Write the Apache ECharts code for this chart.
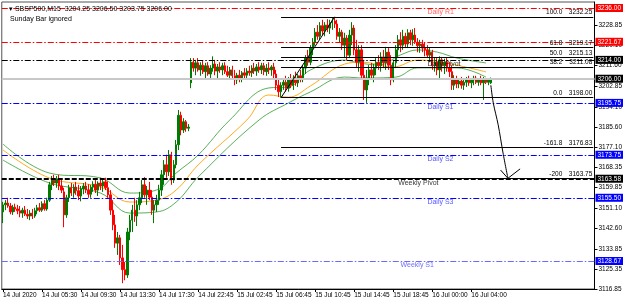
<!DOCTYPE html>
<html><head><meta charset="utf-8">
<script src="https://cdn.jsdelivr.net/npm/echarts@6/dist/echarts.min.js"></script>
<style>html,body{margin:0;padding:0;background:#fff}#c{width:625px;height:305px}</style>
</head><body><div id="c"></div>
<script>
// ---------- data ----------
const symbolName = 'SBSP500,M15';
const subTitle = 'Sunday Bar ignored';
const tickLabels = ['14 Jul 2020','14 Jul 05:30','14 Jul 09:30','14 Jul 13:30','14 Jul 17:30','14 Jul 22:45','15 Jul 02:45','15 Jul 06:45','15 Jul 10:45','15 Jul 14:45','15 Jul 18:45','16 Jul 00:00','16 Jul 04:00'];
const yTicks = [3116.85,3125.35,3133.85,3142.60,3151.10,3159.85,3168.35,3177.10,3185.60,3194.10,3202.85,3211.60,3220.10,3228.85];
// candles: [open, high, low, close]
const candles = [
[3149.5,3153.75,3144.75,3152.5],[3152.5,3154.5,3150.25,3153.25],[3153.25,3155.5,3151.25,3152.0],[3152.0,3153.25,3148.5,3149.5],
[3149.5,3152.5,3148.25,3151.5],[3151.5,3153.0,3149.5,3150.75],[3150.75,3152.5,3148.5,3150.0],[3150.0,3152.0,3147.25,3149.0],
[3149.0,3151.25,3147.0,3150.25],[3150.25,3152.0,3147.75,3148.5],[3148.5,3150.75,3146.5,3147.75],[3147.75,3150.25,3146.0,3149.0],
[3149.0,3150.75,3146.5,3147.75],[3147.75,3151.25,3147.0,3150.0],[3150.0,3152.5,3148.5,3151.25],[3151.25,3153.25,3149.5,3150.25],
[3150.25,3154.0,3149.5,3153.0],[3153.0,3154.5,3150.0,3150.75],[3150.75,3155.5,3150.0,3154.5],[3154.5,3162.25,3153.75,3161.0],
[3161.0,3164.75,3158.75,3163.0],[3163.0,3165.25,3160.5,3161.75],[3161.75,3164.75,3159.75,3163.5],[3163.5,3165.25,3158.75,3160.5],
[3160.5,3163.0,3157.5,3158.75],[3158.0,3159.75,3143.0,3148.25],[3148.25,3156.75,3147.0,3155.5],[3155.5,3161.0,3153.75,3159.75],
[3159.75,3161.75,3156.25,3157.5],[3157.5,3161.25,3155.5,3160.0],[3160.0,3162.25,3156.75,3158.5],[3158.5,3161.0,3154.5,3156.25],
[3156.25,3160.5,3154.0,3159.25],[3159.25,3161.75,3157.0,3160.5],[3160.5,3162.25,3157.5,3158.75],[3158.75,3161.25,3155.5,3157.0],
[3157.0,3161.0,3155.5,3160.0],[3160.0,3162.5,3158.0,3161.25],[3161.25,3163.0,3157.5,3158.75],[3158.75,3162.5,3156.25,3161.75],
[3161.75,3164.0,3158.75,3160.5],[3160.5,3163.5,3158.0,3162.25],[3162.25,3164.0,3158.75,3159.75],[3159.75,3162.5,3155.5,3156.75],
[3156.75,3158.75,3148.25,3150.25],[3150.25,3154.5,3141.75,3144.0],[3144.0,3148.25,3134.25,3136.25],[3136.25,3141.0,3131.25,3138.5],
[3138.5,3139.75,3127.0,3130.0],[3130.0,3135.5,3119.25,3125.0],[3125.0,3128.25,3120.5,3122.75],[3122.75,3142.75,3121.5,3141.0],
[3141.0,3148.25,3137.5,3146.0],[3146.0,3152.5,3141.0,3150.25],[3150.25,3155.5,3145.25,3147.75],[3147.75,3154.5,3143.5,3152.5],
[3152.5,3158.0,3150.25,3155.5],[3155.5,3163.0,3153.25,3161.0],[3161.0,3164.25,3155.5,3156.75],[3156.75,3160.5,3152.5,3158.75],
[3158.75,3162.25,3154.5,3155.75],[3155.75,3158.75,3148.25,3150.25],[3150.25,3154.5,3144.75,3152.5],[3152.5,3156.75,3149.5,3154.5],
[3154.5,3161.0,3152.5,3158.75],[3158.75,3167.25,3156.25,3165.25],[3165.25,3171.5,3161.0,3169.5],[3169.5,3173.75,3164.0,3166.5],
[3166.5,3175.75,3164.75,3173.75],[3173.75,3175.0,3161.0,3163.0],[3163.0,3171.5,3161.75,3169.5],[3169.5,3180.0,3168.0,3178.0],
[3178.0,3192.75,3175.75,3190.5],[3190.5,3192.0,3182.0,3184.25],[3184.25,3189.25,3183.0,3187.75],[3187.75,3188.5,3183.5,3185.0],
[3185.0,3186.75,3183.75,3185.5],[3204.25,3214.75,3202.0,3213.0],[3213.0,3214.75,3209.0,3210.5],[3210.5,3214.0,3207.5,3212.75],
[3212.75,3214.75,3209.0,3209.75],[3209.75,3213.0,3207.25,3211.75],[3211.75,3213.5,3208.0,3209.0],[3209.0,3212.75,3206.25,3211.5],
[3211.5,3213.0,3207.25,3208.0],[3208.0,3211.75,3206.25,3210.5],[3210.5,3215.5,3209.0,3212.25],[3212.25,3214.0,3207.5,3209.25],
[3209.25,3212.25,3205.5,3211.0],[3211.0,3213.0,3208.5,3209.75],[3209.75,3212.75,3207.5,3211.5],[3211.5,3213.0,3208.0,3209.0],
[3209.0,3211.5,3206.75,3207.5],[3207.5,3211.0,3206.0,3209.75],[3209.75,3211.5,3206.25,3207.25],[3207.25,3209.75,3203.25,3205.5],
[3205.5,3208.5,3203.75,3207.5],[3207.5,3209.75,3204.5,3206.25],[3206.25,3209.25,3204.5,3208.5],[3208.5,3210.5,3206.25,3207.5],
[3207.5,3210.5,3206.0,3209.25],[3209.25,3211.5,3207.25,3208.5],[3208.5,3211.75,3206.75,3210.5],[3210.5,3212.75,3208.0,3209.25],
[3209.25,3212.25,3207.25,3211.0],[3211.0,3213.0,3208.5,3209.75],[3209.75,3212.75,3208.0,3211.5],[3211.5,3212.75,3207.5,3209.0],
[3209.0,3212.25,3207.25,3210.5],[3210.5,3213.0,3208.0,3209.75],[3209.75,3211.75,3207.25,3211.0],[3211.0,3212.75,3206.25,3208.0],
[3208.0,3209.75,3201.25,3203.25],[3203.25,3205.5,3198.25,3200.5],[3200.5,3204.5,3198.0,3203.25],[3203.25,3206.25,3201.25,3204.5],
[3204.5,3207.25,3200.5,3202.0],[3202.0,3206.75,3200.5,3205.5],[3205.5,3208.0,3202.0,3203.25],[3203.25,3207.5,3201.25,3206.25],
[3206.25,3209.0,3203.0,3204.25],[3204.25,3208.0,3202.5,3207.25],[3207.25,3209.75,3204.5,3206.0],[3206.0,3211.75,3204.5,3210.5],
[3210.5,3216.0,3208.0,3214.75],[3214.75,3218.25,3211.5,3213.0],[3213.0,3220.25,3211.75,3219.0],[3219.0,3223.25,3216.0,3221.5],
[3221.5,3227.5,3220.0,3225.75],[3225.75,3228.75,3222.5,3224.0],[3224.0,3230.0,3222.5,3228.5],[3228.5,3231.0,3224.5,3226.25],
[3226.25,3230.0,3224.0,3228.75],[3228.75,3231.25,3225.75,3227.5],[3227.5,3231.0,3225.0,3229.75],[3229.75,3231.75,3226.75,3230.5],
[3230.5,3232.25,3227.5,3229.25],[3229.25,3231.0,3222.5,3224.0],[3224.0,3227.5,3221.5,3225.75],[3225.75,3226.75,3218.25,3220.25],
[3220.25,3225.5,3214.75,3223.25],[3223.25,3224.5,3214.0,3216.0],[3216.0,3226.75,3214.75,3224.5],[3224.5,3230.0,3220.25,3227.5],
[3227.5,3228.75,3216.0,3218.25],[3218.25,3222.5,3210.5,3213.0],[3213.0,3220.25,3209.0,3218.25],[3218.25,3220.25,3205.5,3207.5],
[3207.5,3214.0,3197.0,3201.25],[3201.25,3209.75,3195.75,3206.25],[3206.25,3211.75,3203.25,3209.75],[3209.75,3212.75,3205.5,3207.5],
[3207.5,3212.25,3204.5,3210.5],[3210.5,3214.75,3207.5,3213.0],[3213.0,3216.0,3209.75,3211.5],[3211.5,3217.25,3209.0,3215.25],
[3215.25,3218.25,3210.5,3212.75],[3212.75,3219.5,3209.75,3217.25],[3217.25,3219.0,3209.75,3211.75],[3211.75,3216.0,3203.25,3205.5],
[3205.5,3214.0,3204.5,3212.75],[3212.75,3220.25,3210.5,3218.25],[3218.25,3224.5,3214.75,3222.5],[3222.5,3225.75,3217.25,3220.25],
[3220.25,3226.75,3218.25,3224.0],[3224.0,3225.5,3219.0,3220.75],[3220.75,3227.0,3219.0,3225.5],[3225.5,3226.75,3220.25,3222.5],
[3222.5,3227.0,3220.0,3224.5],[3224.5,3227.5,3220.75,3221.5],[3221.5,3223.25,3217.25,3220.0],[3220.0,3222.5,3217.0,3220.75],
[3220.75,3222.5,3217.25,3219.0],[3219.0,3221.25,3215.5,3218.25],[3218.25,3220.25,3214.75,3216.0],[3216.0,3219.0,3213.0,3217.25],
[3217.25,3218.25,3209.75,3211.5],[3211.5,3214.75,3209.0,3213.0],[3213.0,3214.75,3207.5,3209.75],[3209.75,3215.5,3205.5,3214.0],
[3214.0,3215.25,3209.0,3211.5],[3211.5,3214.5,3208.0,3213.0],[3213.0,3214.75,3209.0,3210.5],[3210.5,3213.0,3206.75,3209.0],
[3209.0,3211.75,3201.25,3203.25],[3203.25,3207.5,3201.25,3205.5],[3205.5,3207.25,3202.0,3203.75],[3203.75,3206.25,3202.0,3205.0],
[3205.0,3206.75,3201.75,3203.25],[3203.25,3206.25,3201.25,3204.5],[3204.5,3206.75,3202.5,3205.5],[3205.5,3207.25,3203.0,3204.25],
[3204.25,3206.25,3202.0,3205.5],[3205.5,3207.25,3203.25,3206.25],[3206.25,3207.25,3203.75,3204.5],[3204.5,3206.25,3203.0,3206.0],
[3206.0,3207.25,3203.25,3204.25],[3204.25,3206.75,3197.0,3205.5],[3205.5,3206.25,3203.75,3204.5],[3204.5,3206.25,3203.25,3205.5],
[3204.25,3206.5,3203.75,3206.0]
];
// indicator lines: [bar, price] points
const maUpper = [[0,3178.3],[19,3166.0],[40,3163.9],[52,3157.5],[63,3158.8],[71,3166.0],[80,3173.6],[93,3188.5],[109,3202.1],[117,3202.5],[126,3209.7],[140,3213.9],[146,3212.7],[154,3211.8],[163,3216.1],[170,3218.2],[178,3217.3],[186,3214.8],[198,3212.7]];
const maMid = [[0,3175.8],[19,3163.9],[40,3160.1],[52,3153.7],[63,3154.5],[71,3158.8],[80,3169.4],[100,3188.5],[109,3199.1],[117,3198.2],[126,3202.9],[140,3212.2],[147,3213.0],[160,3211.0],[170,3213.9],[180,3213.0],[198,3208.9]];
const maLower = [[0,3171.5],[19,3161.8],[40,3157.5],[52,3149.0],[63,3149.5],[71,3153.7],[80,3164.3],[105,3188.5],[117,3195.7],[126,3200.4],[140,3206.7],[148,3206.3],[161,3206.7],[170,3210.6],[186,3210.6],[198,3206.7]];
// horizontal levels
const levelNames  = ['Daily R1','','Daily Pivot','','Daily S1','Daily S2','Weekly Pivot','Daily S3','Weekly S1'];
const levelValues = [3236.00,3221.67,3214.00,3206.00,3195.75,3173.75,3163.58,3155.50,3128.67];
const levelKinds  = ['R','R','P','bid','S','S','WP','S','WS'];
// fibonacci
const fibLevels = ['100.0','61.8','50.0','38.2','0.0','-161.8','-200'];
const fibValues = [3232.25,3219.17,3215.13,3211.08,3198.00,3176.83,3163.75];
const fibLowBar = 114, fibHighBar = 136;
// hand-drawn arrow (bar, price)
const arrowPath = [[200,3203.25],[201,3195.75],[203,3186.5],[205,3174.5],[207,3163.75]];
const arrowHead = [[204,3167.25],[207,3163.75],[212,3167.75]];

// ---------- chart ----------
const BARS_PER_LABEL = 16, SLOTS = 243;
const categories = Array.from({length: SLOTS}, (_, i) => (i % BARS_PER_LABEL === 0 && i / BARS_PER_LABEL < tickLabels.length) ? tickLabels[i / BARS_PER_LABEL] : '');
const showTick = (i) => i % BARS_PER_LABEL === 0 && i / BARS_PER_LABEL < tickLabels.length;
const FONT = 'Liberation Sans, Arial, sans-serif';
const DASHDOT = [6, 2, 1.5, 2];
const kindStyle = {
  R:  {line: '#ff0000', type: DASHDOT, w: 1, box: '#ff0000', text: '#ff3b3b'},
  P:  {line: '#000000', type: DASHDOT, w: 1, box: '#000000', text: '#000000'},
  bid:{line: '#c8c8c8', type: 'solid', w: 2, box: '#000000', text: '#000000'},
  S:  {line: '#0000ff', type: DASHDOT, w: 1, box: '#0000ff', text: '#2a2aff'},
  WP: {line: '#000000', type: [5, 2], w: 2, box: '#000000', text: '#000000'},
  WS: {line: '#6a6aff', type: DASHDOT, w: 1.2, box: '#0000ff', text: '#4a4aff'}
};
const levelTextBar = {'Weekly Pivot': 162, 'Weekly S1': 163};
const last = candles[candles.length - 1];

const levelLines = levelValues.map((v, k) => {
  const s = kindStyle[levelKinds[k]];
  return {
    yAxis: v,
    lineStyle: {color: s.line, type: s.type, width: s.w, opacity: 1},
    label: {show: true, position: 'end', distance: 1, formatter: v.toFixed(2), color: '#fff',
            backgroundColor: s.box, padding: [1, 2, 0, 2], fontSize: 6.5, fontFamily: FONT}
  };
});
const fibLines = fibValues.map((v, k) => [
  {coord: [fibLowBar, v], lineStyle: {color: '#000', type: 'solid', width: 1},
   label: {show: true, position: 'insideEndTop', distance: 1,
     formatter: '{l|' + fibLevels[k] + '}{v|' + v.toFixed(2) + '}',
     rich: {l: {fontSize: 6.5, fontFamily: FONT, color: '#000', align: 'right', width: 20},
            v: {fontSize: 6.5, fontFamily: FONT, color: '#000', align: 'right', width: 30}}}},
  {coord: [SLOTS - 1, v]}
]);
const trendLine = [[{coord: [fibLowBar, fibValues[4]], lineStyle: {color: '#000', type: 'solid', width: 1}, label: {show: false}},
                    {coord: [fibHighBar, fibValues[0]]}]];

const levelText = levelNames.map((n, k) => n ? {
  value: [levelTextBar[n] !== undefined ? levelTextBar[n] : 174, levelValues[k]],
  label: {show: true, formatter: n, color: kindStyle[levelKinds[k]].text}
} : null).filter(Boolean);

const chart = echarts.init(document.getElementById('c'), null, {renderer: 'canvas'});
chart.setOption({
  animation: false,
  backgroundColor: '#fff',
  title: [
    {text: '\u25BE ' + symbolName + '  ' + last[0].toFixed(2) + ' ' + last[1].toFixed(2) + ' ' + last[2].toFixed(2) + ' ' + last[3].toFixed(2),
     left: 4, top: 1, textStyle: {fontSize: 7, fontWeight: 'normal', color: '#000', fontFamily: FONT}},
    {text: subTitle, left: 5, top: 11, textStyle: {fontSize: 7, fontWeight: 'normal', color: '#000', fontFamily: FONT}}
  ],
  grid: {left: 1.5, right: 27.5, top: 2, bottom: 16, show: true, borderColor: '#555', borderWidth: 1, containLabel: false},
  xAxis: {
    type: 'category', data: categories, boundaryGap: true,
    axisLine: {show: true, lineStyle: {color: '#000', width: 1}},
    axisTick: {show: true, interval: (i) => showTick(i), alignWithLabel: true, length: 3, lineStyle: {color: '#000'}},
    axisLabel: {show: true, interval: (i) => showTick(i), align: 'left', fontSize: 6.5, color: '#000', fontFamily: FONT, margin: 3},
    splitLine: {show: false}
  },
  yAxis: {
    type: 'value', position: 'right', min: 3116.8, max: 3238.55, scale: true,
    axisLine: {show: true, onZero: false, lineStyle: {color: '#000', width: 1}},
    axisTick: {show: true, customValues: yTicks, length: 3, lineStyle: {color: '#000'}},
    axisLabel: {show: true, customValues: yTicks, formatter: (v) => v.toFixed(2), fontSize: 6.5, color: '#000', fontFamily: FONT, margin: 4},
    splitLine: {show: false}
  },
  series: [
    {type: 'line', data: maUpper, smooth: 0.4, showSymbol: false, silent: true, lineStyle: {color: '#2f9a2f', width: 0.8}, z: 2},
    {type: 'line', data: maMid, smooth: 0.4, showSymbol: false, silent: true, lineStyle: {color: '#ffa000', width: 0.9}, z: 2},
    {type: 'line', data: maLower, smooth: 0.4, showSymbol: false, silent: true, lineStyle: {color: '#2f9a2f', width: 0.8}, z: 2},
    {
      type: 'candlestick', name: symbolName, z: 3,
      data: candles.map(c => [c[0], c[3], c[2], c[1]]),
      barWidth: 1.9,
      itemStyle: {color: '#007a00', color0: '#ff0000', borderColor: '#007a00', borderColor0: '#ff0000', borderWidth: 1},
      markLine: {silent: true, symbol: ['none', 'none'], animation: false,
        data: levelLines.concat(fibLines, trendLine)}
    },
    {type: 'scatter', data: levelText, symbolSize: 0, silent: true, z: 5,
     label: {show: true, position: [0, 1], align: 'left', verticalAlign: 'top', fontSize: 7, fontFamily: FONT}},
    {type: 'line', data: arrowPath, smooth: 0.3, showSymbol: false, silent: true, lineStyle: {color: '#000', width: 1}, z: 6},
    {type: 'line', data: arrowHead, smooth: false, showSymbol: false, silent: true, lineStyle: {color: '#000', width: 1}, z: 6}
  ]
});
</script></body></html>
